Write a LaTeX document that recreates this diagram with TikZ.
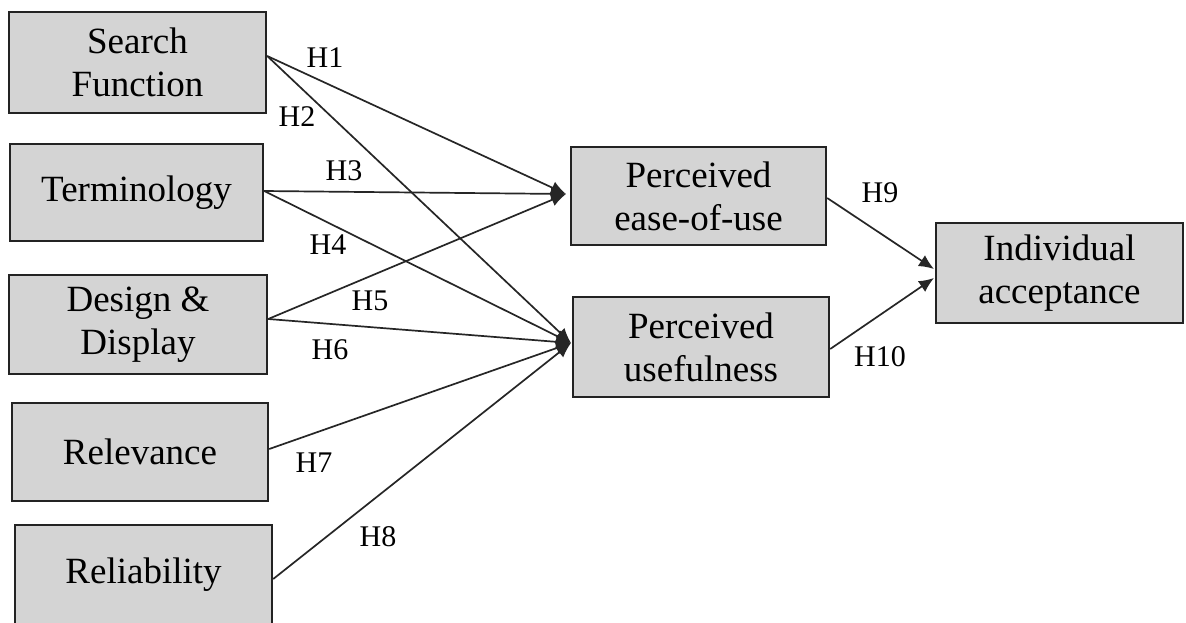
\documentclass[tikz,border=0pt]{standalone}
\usepackage{fontspec}
\setmainfont{Liberation Serif}
\usetikzlibrary{arrows.meta}
\definecolor{boxgray}{RGB}{212,212,212}
\definecolor{edgegray}{RGB}{35,35,35}
\tikzset{
  construct/.style={draw=edgegray, line width=2.4pt, fill=boxgray, rectangle,
    inner sep=0pt, align=center, font=\fontsize{37}{43}\selectfont},
  hyp/.style={-{Latex[length=15pt,width=13pt]}, draw=black!85, line width=1.7pt},
  hlabel/.style={inner sep=0pt, font=\fontsize{30}{34}\selectfont}
}
\begin{document}
\begin{tikzpicture}[x=1pt,y=-1pt]
\useasboundingbox[fill=white] (0,0) rectangle (1186,622);

% independent constructs
\node[construct, minimum width=257pt, minimum height=101pt] (sf) at (137.5,62.5) {Search\\Function};
\node[construct, minimum width=253pt, minimum height=97pt]  (tm) at (136.5,192.5) {Terminology};
\node[construct, minimum width=258pt, minimum height=99pt]  (dd) at (138,324.5) {Design \&\\Display};
\node[construct, minimum width=256pt, minimum height=98pt]  (rv) at (140,452) {Relevance};
\node[construct, minimum width=257pt, minimum height=100pt] (rl) at (143.5,575) {Reliability};

% mediating and dependent constructs
\node[construct, minimum width=255pt, minimum height=98pt]  (pe) at (698.5,196) {Perceived\\ease-of-use};
\node[construct, minimum width=256pt, minimum height=100pt] (pu) at (701,347) {Perceived\\usefulness};
\node[construct, minimum width=247pt, minimum height=100pt] (ia) at (1059.5,273) {Individual\\acceptance};

% arrow end points
\coordinate (peIn) at (566,194);
\coordinate (puIn) at (571,343);
\coordinate (iaInA) at (934,269);
\coordinate (iaInB) at (934,278);

% hypothesised paths
\draw[hyp] (sf.east |- 0,56) -- (peIn);
\draw[hyp] (sf.east |- 0,56) -- (puIn);
\draw[hyp] (tm.east |- 0,191) -- (peIn);
\draw[hyp] (tm.east |- 0,191) -- (puIn);
\draw[hyp] (dd.east |- 0,319) -- (peIn);
\draw[hyp] (dd.east |- 0,319) -- (puIn);
\draw[hyp] (rv.east |- 0,449) -- (puIn);
\draw[hyp] (rl.east |- 0,579) -- (puIn);
\draw[hyp] (pe.east |- 0,198) -- (iaInA);
\draw[hyp] (pu.east |- 0,349) -- (iaInB);

% hypothesis labels
\node[hlabel] (h1) at (325,58) {H1};
\node[hlabel] (h2) at (297,117) {H2};
\node[hlabel] (h3) at (344,171) {H3};
\node[hlabel] (h4) at (328,245) {H4};
\node[hlabel] (h5) at (370,301) {H5};
\node[hlabel] (h6) at (330,350) {H6};
\node[hlabel] (h7) at (314,463) {H7};
\node[hlabel] (h8) at (378,537) {H8};
\node[hlabel] (h9) at (880,193) {H9};
\node[hlabel] (h10) at (880,357) {H10};
\end{tikzpicture}
\end{document}
